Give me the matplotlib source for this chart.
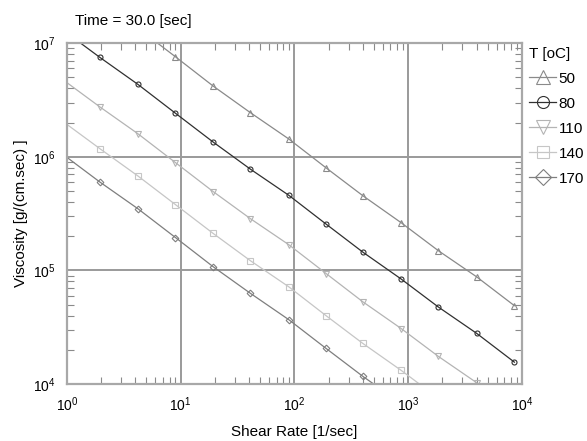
import matplotlib.pyplot as plt
import numpy as np
from matplotlib.ticker import LogLocator, NullFormatter

plt.rcParams['font.family'] = ['Liberation Sans', 'DejaVu Sans']
plt.rcParams['font.size'] = 8
plt.rcParams['mathtext.fontset'] = 'custom'
plt.rcParams['mathtext.rm'] = 'Liberation Sans'

# shear rate [1/sec] at each computed point
shear_rate = [1.0, 1.95, 4.2, 9.0, 19.3, 41, 89, 190, 400, 870, 1850, 4000, 8600]

temps = ['50', '80', '110', '140', '170']

visc_50 = [3.85e7, 2.35e7, 1.36e7, 7.6e6, 4.2e6, 2.45e6, 1.44e6, 8.0e5, 4.55e5, 2.63e5, 1.49e5, 8.8e4, 4.9e4]
visc_80 = [1.23e7, 7.5e6, 4.35e6, 2.42e6, 1.35e6, 7.8e5, 4.6e5, 2.56e5, 1.45e5, 8.4e4, 4.76e4, 2.8e4, 1.56e4]
visc_110 = [4.5e6, 2.75e6, 1.6e6, 8.9e5, 4.95e5, 2.86e5, 1.69e5, 9.4e4, 5.3e4, 3.08e4, 1.75e4, 1.03e4, 5.7e3]
visc_140 = [1.93e6, 1.18e6, 6.8e5, 3.8e5, 2.12e5, 1.22e5, 7.2e4, 4.0e4, 2.28e4, 1.32e4, 7.5e3, 4.4e3, 2.45e3]
visc_170 = [9.9e5, 6.0e5, 3.5e5, 1.95e5, 1.08e5, 6.3e4, 3.7e4, 2.06e4, 1.17e4, 6.75e3, 3.83e3, 2.25e3, 1.25e3]

series = [visc_50, visc_80, visc_110, visc_140, visc_170]
colors = ['#8a8a8a', '#303030', '#b4b4b4', '#c6c6c6', '#7e7e7e']
markers = ['^', 'o', 'v', 's', 'D']
msizes = [4.2, 3.6, 4.2, 3.8, 3.4]

fig = plt.figure(figsize=(5.87, 4.41), dpi=100)
ax = fig.add_axes([0.114, 0.129, 0.775, 0.773])

for vals, c, m, ms, t in zip(series, colors, markers, msizes, temps):
    ax.plot(shear_rate, vals, color=c, lw=0.9, marker=m, ms=ms,
            markerfacecolor='none', markeredgecolor=c, markeredgewidth=0.8,
            markevery=list(range(1, len(shear_rate))), label=t)

ax.set_xscale('log')
ax.set_yscale('log')
ax.set_xlim(1, 1e4)
ax.set_ylim(1e4, 1e7)

ax.xaxis.set_major_locator(LogLocator(base=10, numticks=10))
ax.yaxis.set_major_locator(LogLocator(base=10, numticks=10))
ax.xaxis.set_minor_locator(LogLocator(base=10, subs=np.arange(2, 10), numticks=20))
ax.yaxis.set_minor_locator(LogLocator(base=10, subs=np.arange(2, 10), numticks=20))
ax.xaxis.set_minor_formatter(NullFormatter())
ax.yaxis.set_minor_formatter(NullFormatter())

ax.grid(which='major', color='#9a9a9a', lw=1.4)
ax.tick_params(which='both', direction='in', top=True, right=True, color='#8a8a8a')
ax.tick_params(which='major', length=0, labelsize=10, pad=8)
ax.tick_params(which='minor', length=5, width=0.8)
for sp in ax.spines.values():
    sp.set_color('#a8a8a8')
    sp.set_linewidth(1.6)

ax.set_xlabel('Shear Rate [1/sec]', fontsize=11, labelpad=8)
ax.set_ylabel('Viscosity [g/(cm.sec) ]', fontsize=11, labelpad=4)

fig.text(0.128, 0.952, 'Time = 30.0 [sec]', fontsize=11, va='center', ha='left')

leg = ax.legend(loc='upper left', bbox_to_anchor=(1.0, 1.012), frameon=False,
                title='T [oC]', fontsize=11, title_fontsize=11,
                handlelength=1.75, handletextpad=0.15, labelspacing=0.72,
                borderpad=0.2, borderaxespad=0.3, markerscale=2.4)
leg._legend_box.align = 'left'

fig.savefig('out.png', dpi=100)
